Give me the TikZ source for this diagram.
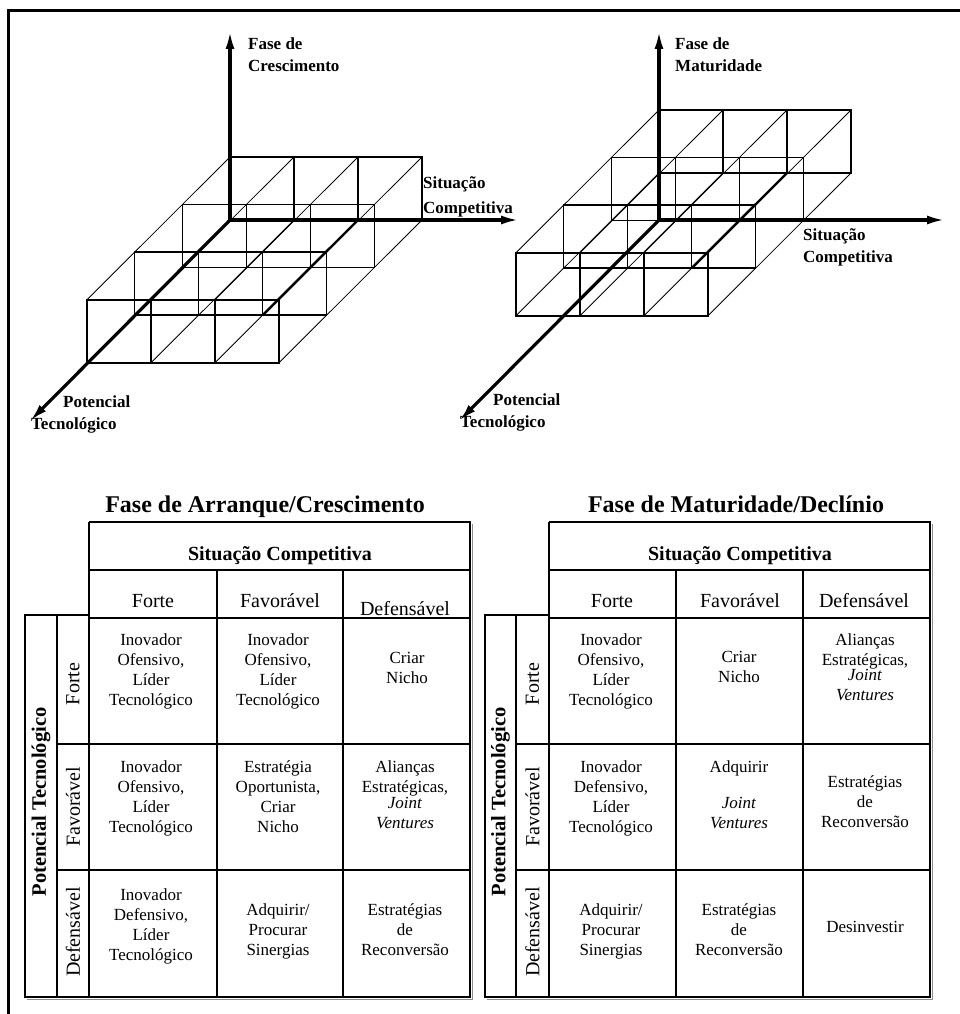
\documentclass[tikz,border=0pt]{standalone}
\usepackage{fontspec}
\setmainfont{Liberation Serif}
\usetikzlibrary{arrows.meta}
\tikzset{
  axis/.style={line width=3.2pt, -{Latex[length=18pt,width=9pt]}},
  boxline/.style={line width=1.6pt},
  diag/.style={line width=0.8pt},
  thickdiag/.style={line width=2.4pt},
  tline/.style={line width=1.6pt},
  tshadow/.style={line width=1.2pt, black!45},
  frame/.style={line width=3pt},
  axlabel/.style={font=\fontsize{17}{22}\selectfont\bfseries, inner sep=0pt, anchor=base west},
  celltext/.style={font=\fontsize{17}{20}\selectfont, inner sep=0pt, anchor=base},
  colhead/.style={font=\fontsize{20}{24}\selectfont, inner sep=0pt, anchor=base},
  sithead/.style={font=\fontsize{20}{24}\selectfont\bfseries, inner sep=0pt, anchor=base},
  tabtitle/.style={font=\fontsize{24}{28}\selectfont\bfseries, inner sep=0pt, anchor=base},
  rowhead/.style={font=\fontsize{20}{24}\selectfont, inner sep=0pt, rotate=90, anchor=center},
  outerhead/.style={font=\fontsize{20.5}{24}\selectfont\bfseries, inner sep=0pt, rotate=90, anchor=center}
}
\newcommand\cellstack[1]{\begin{tabular}[t]{@{}c@{}}#1\end{tabular}}
\newcommand\lstack[1]{\begin{tabular}[t]{@{}l@{}}#1\end{tabular}}
\def\cw{64}
\def\ch{63}
\def\ddx{-47.7}
\def\ddy{47.6}
\newcommand\mygrid[2]{%
  \foreach \k in {0,...,3}{%
    \pgfmathsetmacro\xa{#1+\k*\ddx}%
    \pgfmathsetmacro\ya{#2+\k*\ddy}%
    \draw[boxline] (\xa,\ya) rectangle ({\xa+3*\cw},{\ya-\ch});
    \draw[boxline] ({\xa+\cw},\ya) -- ++(0,-\ch) ({\xa+2*\cw},\ya) -- ++(0,-\ch);
  }
  \foreach \i in {0,...,3}{%
    \pgfmathsetmacro\xb{#1+\i*\cw}%
    \draw[diag] (\xb,{#2-\ch}) -- ++({3*\ddx},{3*\ddy});
    \draw[diag] (\xb,#2) -- ++({3*\ddx},{3*\ddy});
  }
  \draw[thickdiag] ({#1+2*\cw},#2) -- ++({2*\ddx},{2*\ddy});
}
\newcommand\mytable[6]{%
  \draw[tshadow] ({#1+2},999.5) -- ({#6+2.5},999.5) -- ({#6+2.5},524);
  \draw[tline] (#3,522) -- (#6,522) -- (#6,997) -- (#1,997) -- (#1,615) -- (#3,615);
  \draw[tline] (#3,522) -- (#3,997);
  \draw[tline] (#2,615) -- (#2,997);
  \draw[tline] (#3,570) -- (#6,570);
  \draw[tline] (#3,618) -- (#6,618);
  \draw[tline] (#4,570) -- (#4,997);
  \draw[tline] (#5,570) -- (#5,997);
  \draw[tline] (#2,744) -- (#6,744);
  \draw[tline] (#2,870) -- (#6,870);
}
\begin{document}
\begin{tikzpicture}[x=1pt,y=-1pt]
\useasboundingbox (0,0) rectangle (960,1014);
% frame
\coordinate (fb) at (8,1014);
\coordinate (fc) at (8,11);
\coordinate (fr) at (960,11);
\draw[frame] (fb) -- (fc) -- (fr);

% ---------- left 3D diagram ----------
\mygrid{230}{220}
\coordinate (L0) at (230,220);
\coordinate (Lup) at (230,31);
\coordinate (Lright) at (519,220);
\coordinate (Ldepth) at (30,421);
\draw[axis] (L0) -- (Lup);
\draw[axis] (L0) -- (Lright);
\draw[axis] (L0) -- (Ldepth);
\node[axlabel] (Lfase) at (248,50) {\lstack{Fase de\\Crescimento}};
\node[axlabel] (Lsit) at (423,188) {\lstack{Situação\\[3pt]Competitiva}};
\node[axlabel] (Lpot) at (31,407) {\lstack{\hspace*{32pt}Potencial\\Tecnológico}};

% ---------- right 3D diagram ----------
\mygrid{659}{173}
\coordinate (R0) at (659,220);
\coordinate (Rup) at (659,31);
\coordinate (Rright) at (945,220);
\coordinate (Rdepth) at (459,421);
\draw[axis] (R0) -- (Rup);
\draw[axis] (R0) -- (Rright);
\draw[axis] (R0) -- (Rdepth);
\node[axlabel] (Rfase) at (675,50) {\lstack{Fase de\\Maturidade}};
\node[axlabel] (Rsit) at (803,240) {\lstack{Situação\\Competitiva}};
\node[axlabel] (Rpot) at (460,405) {\lstack{\hspace*{33pt}Potencial\\Tecnológico}};

% ---------- left table ----------
\mytable{25}{57}{89}{217}{343}{470}
\node[tabtitle] (tL) at (265,512) {Fase de Arranque/Crescimento};
\node[sithead] (scL) at (280,560) {Situação Competitiva};
\node[colhead] (hL1) at (153,607) {Forte};
\node[colhead] (hL2) at (280,607) {Favorável};
\node[colhead] (hL3) at (405,615) {Defensável};
\node[outerhead] (pL) at (41,802) {Potencial Tecnológico};
\node[rowhead] (rL1) at (73,684) {Forte};
\node[rowhead] (rL2) at (73,807) {Favorável};
\node[rowhead] (rL3) at (73,932) {Defensável};
\node[celltext] (L11) at (151,645) {\cellstack{Inovador\\Ofensivo,\\Líder\\Tecnológico}};
\node[celltext] (L12) at (278,645) {\cellstack{Inovador\\Ofensivo,\\Líder\\Tecnológico}};
\node[celltext] (L13) at (407,663) {\cellstack{Criar\\Nicho}};
\node[celltext] (L21) at (151,772) {\cellstack{Inovador\\Ofensivo,\\Líder\\Tecnológico}};
\node[celltext] (L22) at (278,772) {\cellstack{Estratégia\\Oportunista,\\Criar\\Nicho}};
\node[celltext] (L23) at (405,772) {\cellstack{Alianças\\Estratégicas,\\[-4pt]\textit{Joint}\\\textit{Ventures}}};
\node[celltext] (L31) at (151,900) {\cellstack{Inovador\\Defensivo,\\Líder\\Tecnológico}};
\node[celltext] (L32) at (278,915) {\cellstack{Adquirir/\\Procurar\\Sinergias}};
\node[celltext] (L33) at (405,915) {\cellstack{Estratégias\\de\\Reconversão}};

% ---------- right table ----------
\mytable{485}{516}{549}{676}{803}{930}
\node[tabtitle] (tR) at (736,512) {Fase de Maturidade/Declínio};
\node[sithead] (scR) at (740,560) {Situação Competitiva};
\node[colhead] (hR1) at (612,607) {Forte};
\node[colhead] (hR2) at (740,607) {Favorável};
\node[colhead] (hR3) at (864,607) {Defensável};
\node[outerhead] (pR) at (500.5,802) {Potencial Tecnológico};
\node[rowhead] (rR1) at (532.5,684) {Forte};
\node[rowhead] (rR2) at (532.5,807) {Favorável};
\node[rowhead] (rR3) at (532.5,932) {Defensável};
\node[celltext] (R11) at (611,645) {\cellstack{Inovador\\Ofensivo,\\Líder\\Tecnológico}};
\node[celltext] (R12) at (739,662) {\cellstack{Criar\\Nicho}};
\node[celltext] (R13) at (865,645) {\cellstack{Alianças\\Estratégicas,\\[-5pt]\textit{Joint}\\\textit{Ventures}}};
\node[celltext] (R21) at (611,772) {\cellstack{Inovador\\Defensivo,\\Líder\\Tecnológico}};
\node[celltext] (R22) at (739,772) {\cellstack{Adquirir\\[16pt]\textit{Joint}\\\textit{Ventures}}};
\node[celltext] (R23) at (865,787) {\cellstack{Estratégias\\de\\Reconversão}};
\node[celltext] (R31) at (611,915) {\cellstack{Adquirir/\\Procurar\\Sinergias}};
\node[celltext] (R32) at (739,915) {\cellstack{Estratégias\\de\\Reconversão}};
\node[celltext] (R33) at (865,932) {\cellstack{Desinvestir}};
\end{tikzpicture}
\end{document}
